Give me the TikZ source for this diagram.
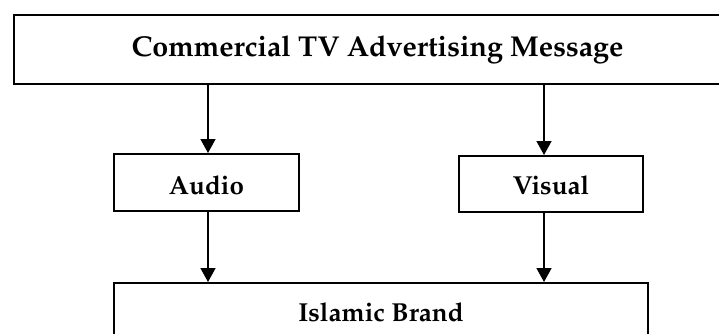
\documentclass[tikz,border=0pt]{standalone}
\usepackage[T1]{fontenc}
\usepackage{mathpazo}
\usetikzlibrary{arrows.meta}
\newcommand{\lowerby}[2]{\raisebox{0pt}[\dimexpr\height+#1\relax][\depth]{#2}}
\tikzset{
  box/.style={draw=black, line width=2pt, inner sep=0pt, anchor=center, font=\bfseries\fontsize{26}{30}\selectfont},
  bigbox/.style={box, font=\bfseries\fontsize{28.7}{34}\selectfont},
  arr/.style={line width=1.5pt, -{Triangle[width=15pt,length=14pt]}}
}
\begin{document}
\begin{tikzpicture}[x=1pt,y=-1pt]
\useasboundingbox (0,0) rectangle (719,334);
\clip (0,0) rectangle (719,334);
\node[bigbox, minimum width=727pt, minimum height=69pt] (top) at (377.5,49.5) {Commercial TV Advertising Message};
\node[box, minimum width=185pt, minimum height=57pt] (audio) at (206.5,182.5) {\lowerby{6pt}{Audio}};
\node[box, minimum width=184pt, minimum height=56pt] (visual) at (551,184) {\lowerby{3pt}{Visual}};
\node[box, minimum width=534pt, minimum height=58pt] (brand) at (381,312) {Islamic Brand};
\coordinate (ax) at (208,0);
\coordinate (vx) at (544,0);
\draw[arr] (top.south -| ax) -- (audio.north -| ax);
\draw[arr] (top.south -| vx) -- (visual.north -| vx);
\draw[arr] (audio.south -| ax) -- (brand.north -| ax);
\draw[arr] (visual.south -| vx) -- (brand.north -| vx);
\end{tikzpicture}
\end{document}
